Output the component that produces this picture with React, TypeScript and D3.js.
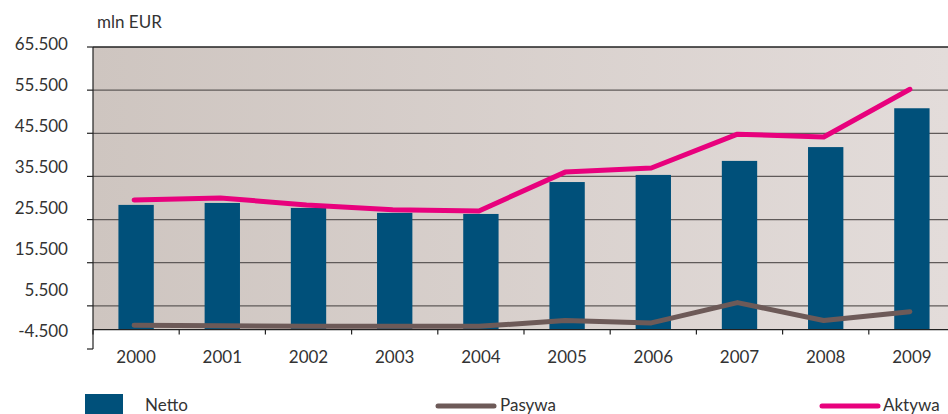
import React from "react";
import * as d3 from "d3";

const years = ["2000","2001","2002","2003","2004","2005","2006","2007","2008","2009"];
const netto = [28900, 29350, 28200, 27050, 26800, 34200, 35850, 39100, 42300, 51300];
const aktywa = [30050, 30500, 28900, 27750, 27500, 36500, 37450, 45300, 44650, 55700];
const pasywa = [1000, 900, 750, 750, 750, 2100, 1550, 6250, 2100, 4150];
const yTicks = [-4500, 5500, 15500, 25500, 35500, 45500, 55500, 65500];
const yTickLabels = ["-4.500","5.500","15.500","25.500","35.500","45.500","55.500","65.500"];

const W = 948, H = 414;
const left = 93, right = 948, top = 47, bottom = 349;
const FONT = "Lato, 'Open Sans', sans-serif";

export default function App() {
  const x = d3.scaleBand<string>().domain(years).range([left, 955]).paddingInner(0).paddingOuter(0);
  const y = d3.scaleLinear().domain([-4500, 65500]).range([bottom, top]);
  const labelY = d3.scaleLinear().domain([-4500, 65500]).range([331, 44]);
  const bw = x.bandwidth() * 0.41;
  const cx = (d: string) => (x(d) as number) + x.bandwidth() / 2;
  const line = d3.line<number>().x((_, i) => cx(years[i]) - 2).y((v) => y(v));
  const y0 = y(0);

  return (
    <svg width={W} height={H} style={{ display: "block", position: "absolute", left: 0, top: 0 }}>
      <defs>
        <linearGradient id="bg" x1="0" x2="1" y1="0" y2="0">
          <stop offset="0" stopColor="#cec5c0" />
          <stop offset="1" stopColor="#e3dcda" />
        </linearGradient>
      </defs>
      <rect x={left} y={top} width={right - left} height={y0 - top} fill="url(#bg)" />
      {yTicks.filter((t) => t > 0 && t < 65500).map((t) => (
        <line key={t} x1={left} x2={right} y1={y(t)} y2={y(t)} stroke="#5f5a59" strokeWidth={1.3} />
      ))}
      <line x1={left} x2={right} y1={top} y2={top} stroke="#222" strokeWidth={1.4} />
      {netto.map((v, i) => (
        <rect key={i} x={cx(years[i]) - bw / 2} y={y(v)} width={bw} height={y0 - y(v)} fill="#00507a" />
      ))}
      <path d={line(pasywa) || ""} fill="none" stroke="#6d5a58" strokeWidth={5} strokeLinecap="round" strokeLinejoin="round" />
      <path d={line(aktywa) || ""} fill="none" stroke="#e8017d" strokeWidth={5} strokeLinecap="round" strokeLinejoin="round" />
      {/* axes */}
      <line x1={left} x2={left} y1={top} y2={bottom} stroke="#222" strokeWidth={1.2} />
      <line x1={left} x2={right} y1={y0} y2={y0} stroke="#222" strokeWidth={1.4} />
      {yTicks.map((t) => (
        <line key={t} x1={left - 6} x2={left} y1={y(t)} y2={y(t)} stroke="#222" strokeWidth={1.2} />
      ))}
      {years.map((yr) => (
        <line key={yr} x1={x(yr) as number} x2={x(yr) as number} y1={y0} y2={y0 + 5} stroke="#222" strokeWidth={1.2} />
      ))}
      {yTicks.map((t, i) => (
        <text key={t} x={68} y={labelY(t)} dy="0.35em" textAnchor="end" fontFamily={FONT} fontSize={17} fill="#333">
          {yTickLabels[i]}
        </text>
      ))}
      {years.map((yr) => (
        <text key={yr} x={cx(yr)} y={357} dy="0.35em" textAnchor="middle" fontFamily={FONT} fontSize={17} fill="#333">
          {yr}
        </text>
      ))}
      <text x={97} y={22} dy="0.35em" fontFamily={FONT} fontSize={17} fill="#333">mln EUR</text>
      {/* legend */}
      <rect x={85} y={394} width={38} height={20} fill="#00507a" />
      <text x={145} y={405} dy="0.35em" fontFamily={FONT} fontSize={17} fill="#333">Netto</text>
      <line x1={438} x2={494} y1={406} y2={406} stroke="#6d5a58" strokeWidth={5} strokeLinecap="round" />
      <text x={500} y={405} dy="0.35em" fontFamily={FONT} fontSize={17} fill="#333">Pasywa</text>
      <line x1={822} x2={878} y1={406} y2={406} stroke="#e8017d" strokeWidth={5} strokeLinecap="round" />
      <text x={883} y={405} dy="0.35em" fontFamily={FONT} fontSize={17} fill="#333">Aktywa</text>
    </svg>
  );
}
